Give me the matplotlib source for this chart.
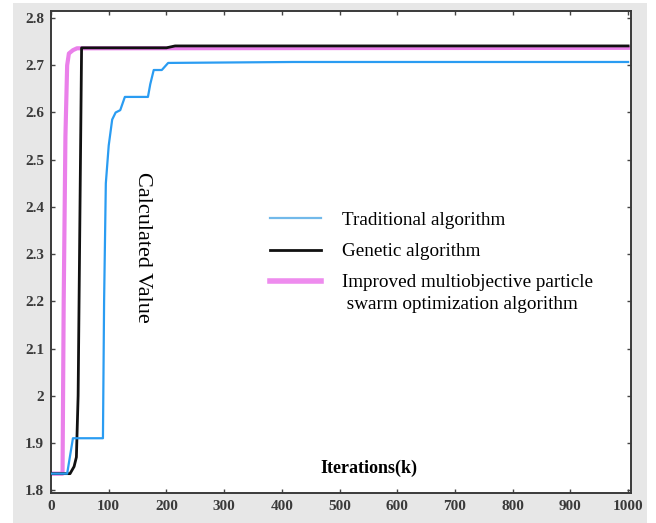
import numpy as np
import matplotlib
matplotlib.use("Agg")
import matplotlib.pyplot as plt
from matplotlib.patches import Rectangle
from matplotlib.ticker import FormatStrFormatter

# data
trad_x = [0, 28, 38, 90, 92, 95, 100, 106, 112, 120, 128, 168, 172, 178, 192, 203, 420, 1000]
trad_y = [1.835, 1.835, 1.91, 1.91, 2.2, 2.45, 2.53, 2.585, 2.6, 2.605, 2.633, 2.633, 2.66, 2.69, 2.69, 2.705, 2.707, 2.707]

gen_x = [0, 33, 40, 44, 47, 53, 200, 215, 1000]
gen_y = [1.835, 1.835, 1.85, 1.87, 2.0, 2.737, 2.737, 2.741, 2.741]

imp_x = [0, 20, 22, 25, 28, 31, 38, 45, 1000]
imp_y = [1.835, 1.835, 2.2, 2.55, 2.7, 2.725, 2.732, 2.736, 2.737]

labels = ["Traditional algorithm", "Genetic algorithm",
          "Improved multiobjective particle\n swarm optimization algorithm"]
xticks = list(range(0, 1001, 100))
yticks = [1.8, 1.9, 2.0, 2.1, 2.2, 2.3, 2.4, 2.5, 2.6, 2.7, 2.8]

W, H = 656, 523
fig = plt.figure(figsize=(W / 100, H / 100), dpi=100, facecolor="white")
fig.patches.append(Rectangle((13 / W, 0), 634 / W, 520 / H, transform=fig.transFigure,
                             facecolor="#e7e7e7", edgecolor="none", zorder=-10))
ax = fig.add_axes([51 / W, 1 - 493 / H, 580 / W, 482 / H])
ax.set_facecolor("white")

p1, = ax.plot(imp_x, imp_y, color="#ea80ea", lw=3.0, label=labels[2], zorder=2)
p2, = ax.plot(gen_x, gen_y, color="#111111", lw=2.0, label=labels[1], zorder=3)
p3, = ax.plot(trad_x, trad_y, color="#2a9cf2", lw=1.6, label=labels[0], zorder=4)

ax.set_xlim(0, 1005)
ax.set_ylim(1.794, 2.815)
ax.set_xticks(xticks)
ax.set_yticks(yticks)
ax.yaxis.set_major_formatter(FormatStrFormatter("%g"))
ax.tick_params(direction="in", length=3, width=1, top=True, right=True,
               colors="#444444", labelcolor="#3a3a3a")
ax.tick_params(axis="x", pad=5)
ax.tick_params(axis="y", pad=5)
for lab in ax.get_xticklabels() + ax.get_yticklabels():
    lab.set_fontfamily("Liberation Serif")
    lab.set_fontweight("bold")
    lab.set_fontsize(11)
for s in ax.spines.values():
    s.set_color("#3a3a3a")
    s.set_linewidth(1.4)

ax.text((143 - 51) / 580, 1 - (247 - 11) / 482, "Calculated Value", transform=ax.transAxes,
        rotation=270, ha="center", va="center", family="Liberation Serif", fontsize=16)
ax.text((369 - 51) / 580, 1 - (468 - 11) / 482, "Iterations(k)", transform=ax.transAxes,
        ha="center", va="center", family="Liberation Serif", fontweight="bold", fontsize=13)

leg = ax.legend([p3, p2, p1], labels, loc="upper left",
                bbox_to_anchor=(262 / W, 1 - 204 / H), bbox_transform=fig.transFigure,
                frameon=False, borderaxespad=0, handlelength=2.7, handletextpad=1.1,
                labelspacing=0.72, prop={"family": "Liberation Serif", "size": 13.8})
leg.get_texts()[2].set_linespacing(1.4)
legcols = ["#72b9ea", "#111111", "#ee8cee"]
for ln, c in zip(leg.get_lines(), legcols):
    ln.set_color(c)
leg.get_lines()[2].set_linewidth(4)
# keep the pink handle on the first line of the two-line label
ln = leg.get_lines()[2]
ln.set_ydata(np.array(ln.get_ydata()) + 9)

fig.savefig("out.png", dpi=100, facecolor=fig.get_facecolor())
